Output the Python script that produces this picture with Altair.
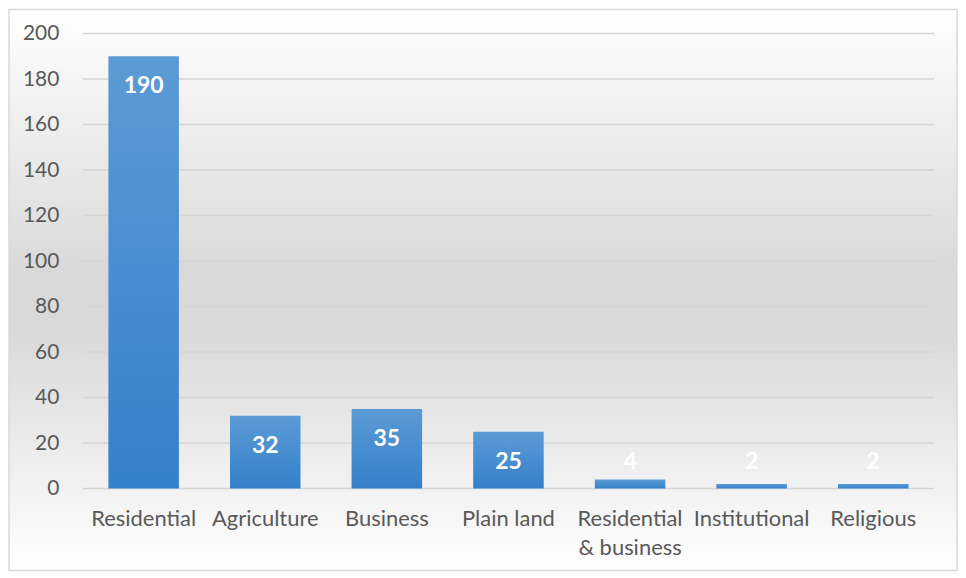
import altair as alt
import pandas as pd

categories = ["Residential", "Agriculture", "Business", "Plain land",
              "Residential & business", "Institutional", "Religious"]
values = [190, 32, 35, 25, 4, 2, 2]
y_ticks = [0, 20, 40, 60, 80, 100, 120, 140, 160, 180, 200]

df = pd.DataFrame({"category": categories, "value": values})
grid_df = pd.DataFrame({"tick": y_ticks})

W, H = 853, 456
FONT = "Lato"

bg_grad = {
    "gradient": "linear", "x1": 0, "y1": 0, "x2": 0, "y2": 1,
    "stops": [
        {"offset": 0.0, "color": "#ffffff"},
        {"offset": 0.466, "color": "#d9d9d9"},
        {"offset": 0.573, "color": "#d9d9d9"},
        {"offset": 1.0, "color": "#ffffff"},
    ],
}
bar_grad = {
    "gradient": "linear", "x1": 0, "y1": 0, "x2": 0, "y2": 1,
    "stops": [
        {"offset": 0.0, "color": "#5b9bd5"},
        {"offset": 1.0, "color": "#3580ca"},
    ],
}

y_scale = alt.Scale(domain=[0, 200], nice=False)

background = alt.Chart(pd.DataFrame({"k": [0]})).mark_rect(
    fill=bg_grad, stroke="#d9d9d9", strokeWidth=1.5, clip=False
).encode(
    x=alt.value(-74), x2=alt.value(876),
    y=alt.value(-24), y2=alt.value(538),
)

grid = alt.Chart(grid_df).mark_rule(color="#d5d5d5", strokeWidth=1.5).encode(
    y=alt.Y("tick:Q", scale=y_scale, title=None),
    x=alt.value(0), x2=alt.value(W),
)

base = alt.Chart(df)

x_enc = alt.X(
    "category:N", sort=categories, title=None,
    scale=alt.Scale(paddingInner=0.42, paddingOuter=0.21),
    axis=alt.Axis(
        labelAngle=0, domain=False, ticks=False, labelPadding=20,
        labelLineHeight=29, zindex=1, labelFontSize=22,
        labelExpr="datum.label == 'Residential & business' ? ['Residential', '& business'] : datum.label",
    ),
)

bars = base.mark_bar(fill=bar_grad).encode(
    x=x_enc,
    y=alt.Y(
        "value:Q", title=None, scale=y_scale,
        axis=alt.Axis(values=y_ticks, domain=False, ticks=False, labelPadding=24,
                      grid=False, zindex=1, labelFontSize=21),
    ),
)

labels = base.transform_calculate(
    labelY="max(datum.value, 25)"
).mark_text(
    color="white", font=FONT, fontWeight="bold", fontSize=23,
    baseline="middle", dy=30,
).encode(
    x=alt.X("category:N", sort=categories),
    y=alt.Y("labelY:Q"),
    text=alt.Text("value:Q"),
)

chart = alt.layer(background, grid, bars, labels).properties(
    width=W, height=H, padding=0,
).configure_view(stroke=None).configure_axis(
    labelFont=FONT, labelColor="#595959",
)

chart.save("out.html", embed_options={"renderer": "svg", "actions": False})
